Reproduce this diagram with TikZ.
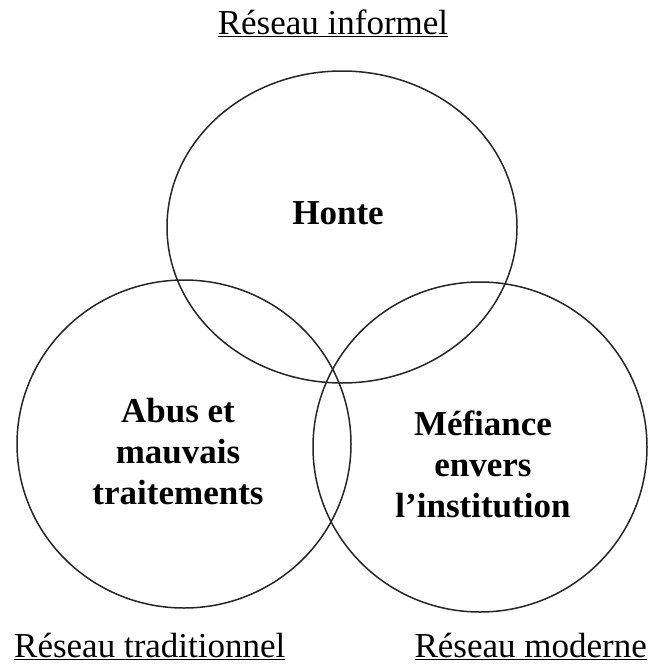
\documentclass[tikz,border=0pt]{standalone}
\usepackage{fontspec}
\setmainfont{Liberation Serif}
\begin{document}
\begin{tikzpicture}[x=1pt,y=-1pt,
  ring/.style={draw=black!85, line width=1.5pt},
  label/.style={font=\fontsize{35}{41}\selectfont\bfseries, align=center, inner sep=0pt},
  title/.style={font=\fontsize{35}{41}\selectfont, inner sep=0pt}]
  \useasboundingbox (0,0) rectangle (654,667);
  % the three overlapping networks
  \draw[ring] (342,227) ellipse [x radius=175, y radius=156];
  \draw[ring] (184,444) ellipse [x radius=167, y radius=164];
  \draw[ring] (480,447) ellipse [x radius=167, y radius=165];
  % contents of each ring
  \node[label] (honte) at (338,213) {Honte};
  \node[label] (abus) at (178,452) {Abus et\\mauvais\\traitements};
  \node[label] (mef) at (483,464) {Méfiance\\envers\\l’institution};
  % network names
  \node[title, anchor=base] (inf) at (333,34) {\underline{Réseau informel}};
  \node[title, anchor=base west] (trad) at (14,657) {\underline{Réseau traditionnel}};
  \node[title, anchor=base east] (mod) at (647,657) {\underline{Réseau moderne}};
\end{tikzpicture}
\end{document}
